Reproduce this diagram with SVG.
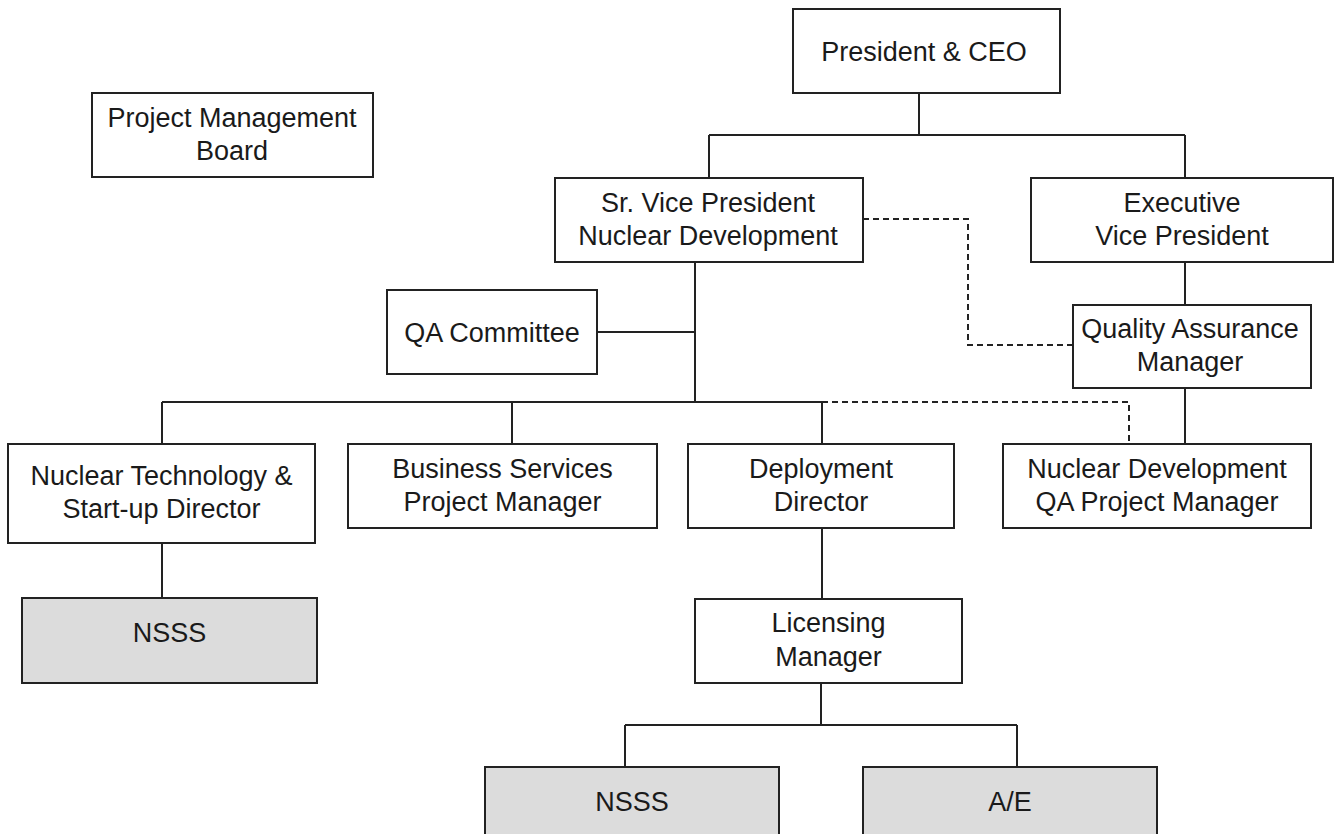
<svg xmlns="http://www.w3.org/2000/svg" width="1338" height="834" viewBox="0 0 1338 834">
<style>
.box{fill:#ffffff;stroke:#222222;stroke-width:2}
.gray{fill:#dcdcdc;stroke:#222222;stroke-width:2}
.t{font-family:"Liberation Sans",Arial,sans-serif;font-size:27px;fill:#1a1a1a;text-anchor:middle}
.ln{fill:none;stroke:#222222;stroke-width:2}
.dash{fill:none;stroke:#222222;stroke-width:2;stroke-dasharray:6 4}
</style>
<rect width="1338" height="834" fill="#ffffff"/>
<g id="connectors">
<path class="ln" d="M919,93 V135 M709,135 H1185 M709,135 V178 M1185,135 V178"/>
<path class="ln" d="M1185,262 V305 M1185,388 V444"/>
<path class="ln" d="M695,262 V402 M597,332 H695"/>
<path class="ln" d="M162,402 H822 M162,402 V444 M512,402 V444 M822,402 V444"/>
<path class="ln" d="M162,543 V598 M822,528 V599 M821,683 V725 M625,725 H1017 M625,725 V767 M1017,725 V767"/>
<path class="dash" d="M863,219 H968 V345 H1073"/>
<path class="dash" d="M822,402 H1129 V444"/>
</g>
<g id="president">
<rect class="box" x="793" y="9" width="267" height="84"/>
<text class="t" x="924" y="61">President &amp; CEO</text>
</g>
<g id="pmb">
<rect class="box" x="92" y="93" width="281" height="84"/>
<text class="t" x="232" y="127">Project Management</text>
<text class="t" x="232" y="160">Board</text>
</g>
<g id="svp">
<rect class="box" x="555" y="178" width="308" height="84"/>
<text class="t" x="708" y="212">Sr. Vice President</text>
<text class="t" x="708" y="245">Nuclear Development</text>
</g>
<g id="evp">
<rect class="box" x="1031" y="178" width="302" height="84"/>
<text class="t" x="1182" y="212">Executive</text>
<text class="t" x="1182" y="245">Vice President</text>
</g>
<g id="qa-committee">
<rect class="box" x="387" y="290" width="210" height="84"/>
<text class="t" x="492" y="342">QA Committee</text>
</g>
<g id="qa-manager">
<rect class="box" x="1073" y="305" width="238" height="83"/>
<text class="t" x="1190" y="338">Quality Assurance</text>
<text class="t" x="1190" y="371">Manager</text>
</g>
<g id="nt-director">
<rect class="box" x="8" y="444" width="307" height="99"/>
<text class="t" x="161.5" y="485">Nuclear Technology &amp;</text>
<text class="t" x="161.5" y="518">Start-up Director</text>
</g>
<g id="bs-manager">
<rect class="box" x="348" y="444" width="309" height="84"/>
<text class="t" x="502.5" y="478">Business Services</text>
<text class="t" x="502.5" y="511">Project Manager</text>
</g>
<g id="deployment">
<rect class="box" x="688" y="444" width="266" height="84"/>
<text class="t" x="821" y="478">Deployment</text>
<text class="t" x="821" y="511">Director</text>
</g>
<g id="ndqa">
<rect class="box" x="1003" y="444" width="308" height="84"/>
<text class="t" x="1157" y="478">Nuclear Development</text>
<text class="t" x="1157" y="511">QA Project Manager</text>
</g>
<g id="nsss1">
<rect class="gray" x="22" y="598" width="295" height="85"/>
<text class="t" x="169.5" y="642">NSSS</text>
</g>
<g id="licensing">
<rect class="box" x="695" y="599" width="267" height="84"/>
<text class="t" x="828.5" y="632">Licensing</text>
<text class="t" x="828.5" y="666">Manager</text>
</g>
<g id="nsss2">
<rect class="gray" x="485" y="767" width="294" height="84"/>
<text class="t" x="632" y="811">NSSS</text>
</g>
<g id="ae">
<rect class="gray" x="863" y="767" width="294" height="84"/>
<text class="t" x="1010" y="811">A/E</text>
</g>
</svg>
